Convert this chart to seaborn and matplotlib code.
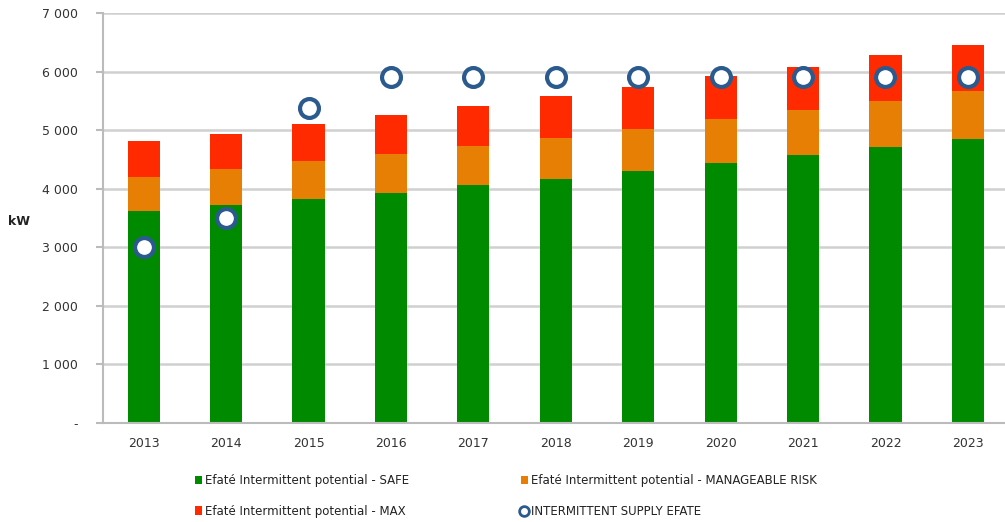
import matplotlib
matplotlib.use("Agg")
import matplotlib.pyplot as plt
from matplotlib.lines import Line2D
from matplotlib.patches import Patch
from matplotlib.ticker import FixedLocator, FuncFormatter
import seaborn as sns
import pandas as pd

# Years and stacked potential segments (kW)
years = ["2013", "2014", "2015", "2016", "2017", "2018", "2019", "2020", "2021", "2022", "2023"]
safe = [3615, 3720, 3825, 3930, 4060, 4170, 4300, 4435, 4570, 4710, 4845]
manageable = [585, 610, 640, 665, 670, 690, 720, 750, 770, 790, 820]
maximum = [615, 610, 635, 665, 690, 720, 720, 740, 745, 775, 790]
supply = [3000, 3500, 5370, 5900, 5900, 5900, 5900, 5900, 5900, 5900, 5900]

labels = [
    "Efaté Intermittent potential - SAFE",
    "Efaté Intermittent potential - MANAGEABLE RISK",
    "Efaté Intermittent potential - MAX",
    "INTERMITTENT SUPPLY EFATE",
]

C_SAFE = "#008a00"
C_MAN = "#e87f05"
C_MAX = "#ff2a00"
C_SUP = "#2b5b8e"

df = pd.DataFrame({"year": years, "safe": safe, "man": manageable, "max": maximum, "supply": supply})
df["top_man"] = df["safe"] + df["man"]
df["top_max"] = df["top_man"] + df["max"]

sns.set_style("white")
plt.rcParams["font.family"] = ["DejaVu Sans"]

fig = plt.figure(figsize=(10.05, 5.22), dpi=100)
ax = fig.add_axes([0.102, 0.19, 0.898, 0.785])

ax.yaxis.grid(True, color="#d0d0d0", linewidth=1.8, zorder=0)
ax.set_axisbelow(True)

# Stacked bars drawn as cumulative totals, tallest first
for col, colr in [("top_max", C_MAX), ("top_man", C_MAN), ("safe", C_SAFE)]:
    sns.barplot(data=df, x="year", y=col, color=colr, width=0.39, saturation=1,
                edgecolor="none", linewidth=0, ax=ax, zorder=2)

sns.scatterplot(data=df, x="year", y="supply", ax=ax, s=185, marker="o",
                facecolor="white", edgecolor=C_SUP, linewidth=3.0, zorder=5, legend=False)

ax.set_xlim(-0.5, 10.45)
ax.set_ylim(0, 7000)
ax.yaxis.set_major_locator(FixedLocator(range(0, 7001, 1000)))
ax.yaxis.set_major_formatter(FuncFormatter(
    lambda v, p: "-" if v == 0 else f"{int(v):,}".replace(",", " ")))

for s in ["top", "right"]:
    ax.spines[s].set_visible(False)
for s in ["left", "bottom"]:
    ax.spines[s].set_color("#bbbbbb")
    ax.spines[s].set_linewidth(1.5)

ax.tick_params(axis="y", which="major", length=5, width=1.5, color="#bbbbbb",
               labelsize=9, labelcolor="#333333", pad=13, left=True)
ax.tick_params(axis="x", length=0, labelsize=9, labelcolor="#333333", pad=10)
ax.set_xlabel("")
ax.set_ylabel("kW", rotation=0, fontsize=9, fontweight="bold", color="#222222")
ax.yaxis.set_label_coords(-0.092, 0.475)

handles = [
    Patch(facecolor=C_SAFE, edgecolor="none"),
    Patch(facecolor=C_MAX, edgecolor="none"),
    Patch(facecolor=C_MAN, edgecolor="none"),
    Line2D([], [], linestyle="none", marker="o", markersize=7, markerfacecolor="white",
           markeredgecolor=C_SUP, markeredgewidth=2.0),
]
fig.legend(handles, [labels[0], labels[2], labels[1], labels[3]], ncol=2, frameon=False,
           loc="lower left", bbox_to_anchor=(0.183, -0.012), fontsize=8.5,
           handlelength=0.6, handleheight=0.7, handletextpad=0.25,
           columnspacing=9.5, labelspacing=1.5, labelcolor="#222222")

fig.savefig("out.png", dpi=100)
